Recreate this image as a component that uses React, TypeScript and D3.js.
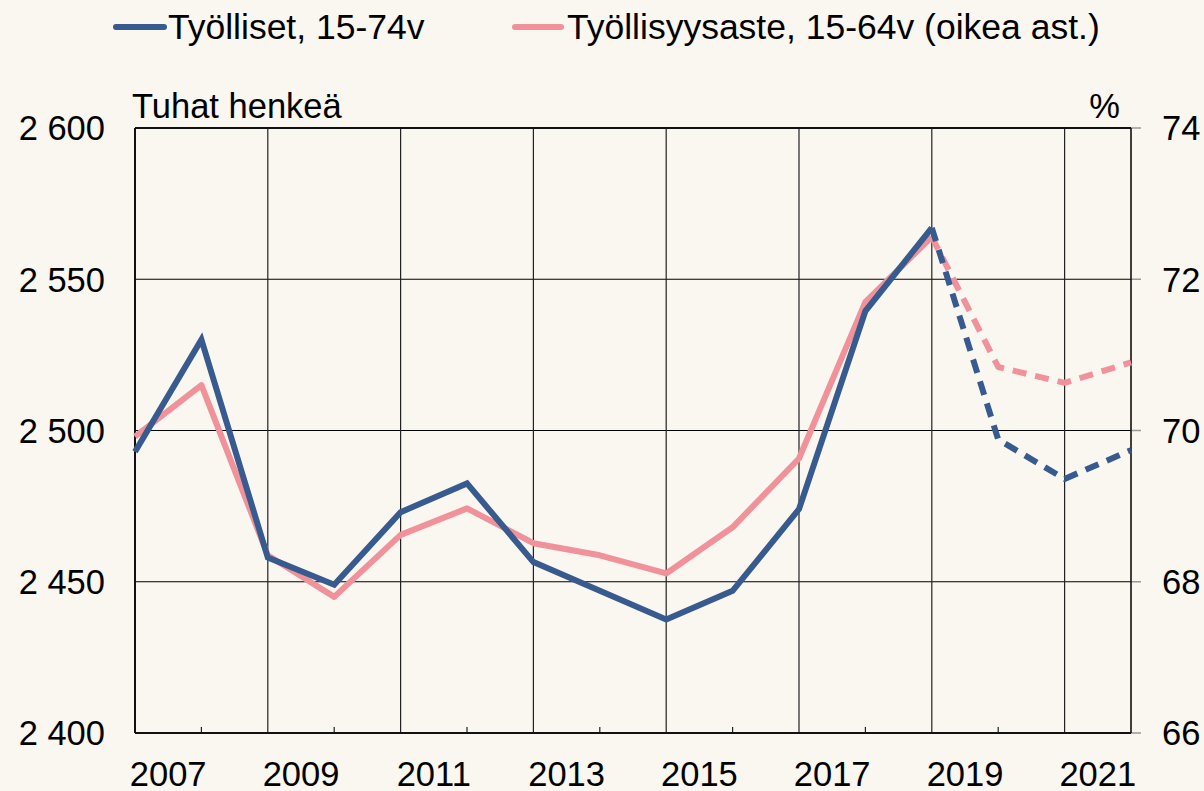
import React from "react";
import * as d3 from "d3";

const years = [2007, 2008, 2009, 2010, 2011, 2012, 2013, 2014, 2015, 2016, 2017, 2018, 2019, 2020, 2021, 2022];
const employed = [2493, 2530, 2458, 2449, 2473, 2482.5, 2456.5, 2447, 2437.5, 2447, 2474, 2539.5, 2567, 2497, 2484, 2493.5];
const employmentRate = [69.92, 70.6, 68.35, 67.8, 68.62, 68.97, 68.51, 68.35, 68.11, 68.72, 69.63, 71.7, 72.56, 70.84, 70.63, 70.9];
const forecastStart = 12; // index of 2019, forecast afterwards
const xLabels = ["2007", "2009", "2011", "2013", "2015", "2017", "2019", "2021"];
const leftTicks = [2400, 2450, 2500, 2550, 2600];
const rightTicks = [66, 68, 70, 72, 74];

const W = 1204;
const H = 791;
const m = { left: 135, right: 1131, top: 128, bottom: 733 };
const BLUE = "#375b8f";
const PINK = "#f1929a";
const BG = "#faf6f0";
const FONT = "'Liberation Sans', Arial, sans-serif";

export default function App() {
  React.useEffect(() => {
    document.body.style.margin = "0";
    document.body.style.background = BG;
  }, []);

  const x = d3.scaleLinear().domain([0, years.length - 1]).range([m.left, m.right]);
  const yL = d3.scaleLinear().domain([2400, 2600]).range([m.bottom, m.top]);
  const yR = d3.scaleLinear().domain([66, 74]).range([m.bottom, m.top]);

  const idx = years.map((_, i) => i);
  const solidIdx = idx.filter((i) => i <= forecastStart);
  const dashIdx = idx.filter((i) => i >= forecastStart);

  const lineL = d3.line<number>().x((i) => x(i)).y((i) => yL(employed[i]));
  const lineR = d3.line<number>().x((i) => x(i)).y((i) => yR(employmentRate[i]));

  const majorIdx = idx.filter((i) => i % 2 === 0 && i > 0 && i < years.length - 1);
  const minorIdx = idx.filter((i) => i % 2 === 1 && i < years.length - 1);

  const fs = 34.5;
  const fsLegend = 35.5;

  return (
    <svg width={W} height={H} style={{ position: "absolute", left: 0, top: 0, display: "block" }} fontFamily={FONT}>
      <rect x={0} y={0} width={W} height={H} fill={BG} />

      {/* Legend */}
      <line x1={116} x2={164} y1={27} y2={27} stroke={BLUE} strokeWidth={6} strokeLinecap="round" />
      <text x={168} y={39} fontSize={fsLegend} fill="#000">Työlliset, 15-74v</text>
      <line x1={515} x2={561} y1={27} y2={27} stroke={PINK} strokeWidth={6} strokeLinecap="round" />
      <text x={567} y={39} fontSize={fsLegend} fill="#000">Työllisyysaste, 15-64v (oikea ast.)</text>

      {/* Axis titles */}
      <text x={132} y={118} fontSize={fs} fill="#000">Tuhat henkeä</text>
      <text x={1120} y={118} fontSize={fs} fill="#000" textAnchor="end">%</text>

      {/* Horizontal gridlines */}
      {leftTicks.map((t) => (
        <line key={"h" + t} x1={m.left} x2={m.right} y1={yL(t)} y2={yL(t)} stroke="#000" strokeWidth={1.2} />
      ))}
      {/* Right ticks */}
      {rightTicks.map((t) => (
        <line key={"rt" + t} x1={m.right} x2={m.right + 10} y1={yR(t)} y2={yR(t)} stroke="#999" strokeWidth={1.5} />
      ))}
      {/* Vertical gridlines */}
      {majorIdx.map((i) => (
        <line key={"v" + i} x1={x(i)} x2={x(i)} y1={m.top} y2={m.bottom} stroke="#222" strokeWidth={1.2} />
      ))}
      {/* Minor ticks */}
      {minorIdx.map((i) => (
        <line key={"mt" + i} x1={x(i)} x2={x(i)} y1={m.bottom} y2={m.bottom - 6} stroke="#222" strokeWidth={1.2} />
      ))}

      {/* Plot border */}
      <line x1={m.left} x2={m.left} y1={m.top} y2={m.bottom} stroke="#111" strokeWidth={2} />
      <line x1={m.right} x2={m.right} y1={m.top} y2={m.bottom} stroke="#111" strokeWidth={1.6} />
      <line x1={m.left} x2={m.right} y1={m.top} y2={m.top} stroke="#111" strokeWidth={2} />
      <line x1={m.left} x2={m.right} y1={m.bottom} y2={m.bottom} stroke="#111" strokeWidth={2} />

      {/* Left axis labels */}
      {leftTicks.map((t) => (
        <text key={"ll" + t} x={105} y={yL(t)} dy="0.36em" fontSize={fs} textAnchor="end" fill="#000">
          {d3.format(",")(t).replace(",", " ")}
        </text>
      ))}
      {/* Right axis labels */}
      {rightTicks.map((t) => (
        <text key={"rl" + t} x={1162} y={yR(t)} dy="0.36em" fontSize={fs} fill="#000">
          {t}
        </text>
      ))}
      {/* X labels */}
      {xLabels.map((l, k) => (
        <text key={"xl" + l} x={x(k * 2 + 0.5)} y={786} fontSize={fs} textAnchor="middle" fill="#000">
          {l}
        </text>
      ))}

      {/* Series */}
      <path d={lineR(solidIdx) || ""} fill="none" stroke={PINK} strokeWidth={6} strokeLinejoin="round" />
      <path d={lineL(solidIdx) || ""} fill="none" stroke={BLUE} strokeWidth={6} strokeLinejoin="miter" strokeMiterlimit={3} />
      <path d={lineR(dashIdx) || ""} fill="none" stroke={PINK} strokeWidth={6} strokeDasharray="14 9" strokeLinejoin="round" />
      <path d={lineL(dashIdx) || ""} fill="none" stroke={BLUE} strokeWidth={6} strokeDasharray="14 9" strokeLinejoin="round" />
    </svg>
  );
}
